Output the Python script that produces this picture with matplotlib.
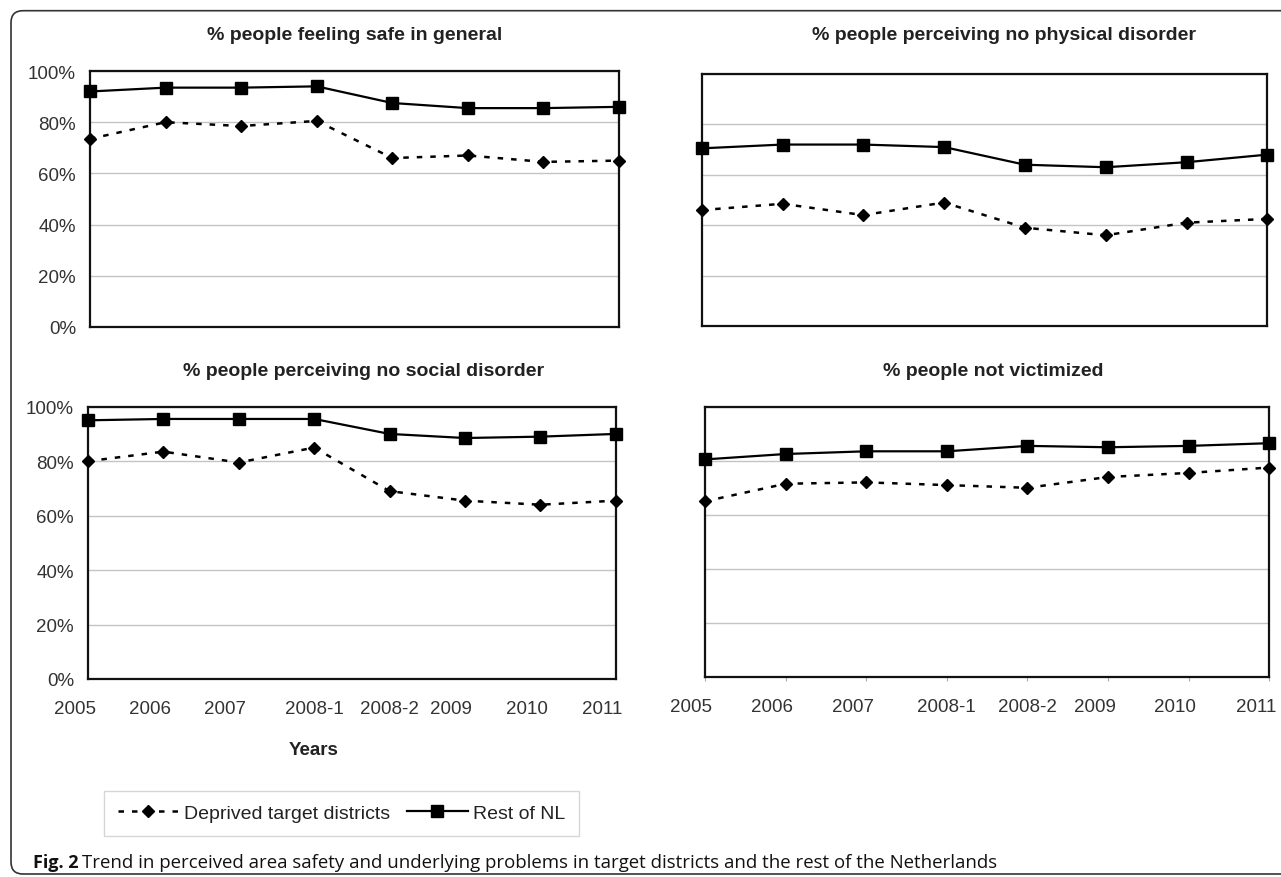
import matplotlib
matplotlib.use("Agg")
import matplotlib.pyplot as plt
import matplotlib.transforms as mtransforms
from matplotlib.patches import FancyBboxPatch
from matplotlib.lines import Line2D

plt.rcParams['font.family'] = ['Liberation Sans', 'DejaVu Sans']

# data (percent)
periods = ['2005', '2006', '2007', '2008-1', '2008-2', '2009', '2010', '2011']

safe_deprived = [73.5, 80, 78.5, 80.5, 66, 67, 64.5, 65]
safe_rest = [92, 93.5, 93.5, 94, 87.5, 85.5, 85.5, 86]

physical_deprived = [46, 48.5, 44, 49, 39, 36, 41, 42.5]
physical_rest = [70.5, 72, 72, 71, 64, 63, 65, 68]

social_deprived = [80, 83.5, 79.5, 85, 69, 65.5, 64, 65.5]
social_rest = [95, 95.5, 95.5, 95.5, 90, 88.5, 89, 90]

victim_deprived = [65, 71.5, 72, 71, 70, 74, 75.5, 77.5]
victim_rest = [80.5, 82.5, 83.5, 83.5, 85.5, 85, 85.5, 86.5]

titles = ['% people feeling safe in general',
          '% people perceiving no physical disorder',
          '% people perceiving no social disorder',
          '% people not victimized']

W, H = 1281, 878
fig = plt.figure(figsize=(W / 100, H / 100), dpi=100)


def rect(x0, y0, x1, y1):
    # pixel box (top-left origin) -> figure fraction
    return [x0 / W, 1 - y1 / H, (x1 - x0) / W, (y1 - y0) / H]


# pixel boxes of the four plot areas, title centres
boxes = [(90, 72, 619, 328), (701.7, 75, 1267.3, 327),
         (88, 407.7, 615.7, 680), (705, 407.7, 1269.3, 678)]
title_pos = [(354.5, 35), (1004.5, 35), (364, 372), (993.6, 372)]
series = [(safe_deprived, safe_rest), (physical_deprived, physical_rest),
          (social_deprived, social_rest), (victim_deprived, victim_rest)]

x = list(range(len(periods)))
dotted = (0, (2.2, 3.2))

for i, (box, (dep, rest)) in enumerate(zip(boxes, series)):
    ax = fig.add_axes(rect(*box))
    ax.plot(x, dep, color='black', lw=1.8, ls=dotted, marker='D', ms=6.6,
            clip_on=False, zorder=4)
    ax.plot(x, rest, color='black', lw=1.6, ls='-', marker='s', ms=9.0,
            clip_on=False, zorder=4)
    ax.set_xlim(0, 7)
    ax.set_ylim(0, 100)
    ax.set_yticks([0, 20, 40, 60, 80, 100])
    ax.grid(axis='y', color='#c4c4c4', lw=1.0)
    ax.set_axisbelow(True)
    for s in ax.spines.values():
        s.set_linewidth(1.6)
        s.set_color('#111111')

    if i in (0, 2):
        ax.set_yticklabels(['%d%%' % v for v in [0, 20, 40, 60, 80, 100]])
        ax.tick_params(axis='y', length=0, pad=10, labelsize=13.5, labelcolor='#333333')
    else:
        ax.tick_params(axis='y', length=0, labelleft=False)

    ax.set_xticks(x)
    if i in (2, 3):
        ax.set_xticklabels(periods)
        ax.tick_params(axis='x', labelsize=13.5, labelcolor='#333333',
                       length=3 if i == 3 else 0, color='#aaaaaa',
                       pad=12 if i == 3 else 15)
        # the 4-digit labels sit a bit left of their category
        shift = mtransforms.ScaledTranslation(-13.5 / 100, 0, fig.dpi_scale_trans)
        for lab in ax.get_xticklabels():
            if len(lab.get_text()) == 4:
                lab.set_transform(lab.get_transform() + shift)
    else:
        ax.tick_params(axis='x', length=0, labelbottom=False)

    tx, ty = title_pos[i]
    fig.text(tx / W, 1 - ty / H, titles[i], ha='center', va='center',
             fontsize=14, fontweight='bold', color='#222222')

fig.text(313.5 / W, 1 - 750.7 / H, 'Years', ha='center', va='center',
         fontsize=13.5, fontweight='bold', color='#222222')

handles = [Line2D([], [], color='black', lw=1.8, ls=dotted, marker='D', ms=6.6),
           Line2D([], [], color='black', lw=1.6, ls='-', marker='s', ms=9.0)]
leg = fig.legend(handles, ['Deprived target districts', 'Rest of NL'],
                 loc='upper left', bbox_to_anchor=(104 / W, 1 - 791.7 / H),
                 ncol=2, frameon=True, fancybox=False, fontsize=14,
                 handlelength=3.1, handletextpad=0.3, columnspacing=0.9,
                 borderpad=0.7, borderaxespad=0)
leg.get_frame().set_edgecolor('#cccccc')
leg.get_frame().set_linewidth(1.0)
for t in leg.get_texts():
    t.set_color('#222222')

# caption
fig.text(33 / W, 1 - 863 / H, 'Fig. 2', ha='left', va='center', fontsize=13,
         fontweight='bold', family=['Open Sans', 'DejaVu Sans'], color='#111111')
fig.text(82 / W, 1 - 863 / H,
         'Trend in perceived area safety and underlying problems in target districts '
         'and the rest of the Netherlands',
         ha='left', va='center', fontsize=13.4, family=['Open Sans', 'DejaVu Sans'],
         color='#111111')

# rounded outer frame (runs off the right edge like the original)
frame = FancyBboxPatch((11, 3), 1310, H - 11.7 - 3,
                       boxstyle='round,pad=0,rounding_size=12',
                       transform=mtransforms.IdentityTransform(),
                       fill=False, lw=1.2, ec='#333333')
fig.add_artist(frame)

fig.savefig('out.png', dpi=100)
